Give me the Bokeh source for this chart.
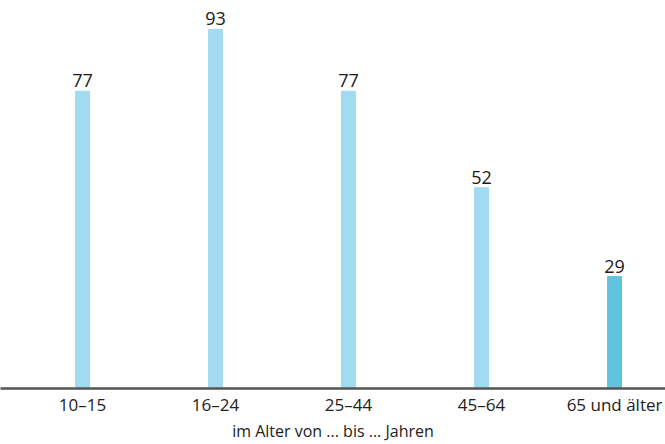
from bokeh.plotting import figure
from bokeh.models import ColumnDataSource, Range1d, FixedTicker, LabelSet
from bokeh.core.properties import value
from bokeh.embed import file_html
from bokeh.resources import INLINE

categories = ["10–15", "16–24", "25–44", "45–64", "65 und älter"]
values = [77, 93, 77, 52, 29]
colors = ["#a2daf2", "#a2daf2", "#a2daf2", "#a2daf2", "#5fc4dc"]
x_label = "im Alter von ... bis ... Jahren"

xs = list(range(len(categories)))
src = ColumnDataSource(dict(x=xs, top=values, color=colors, lab=[str(v) for v in values]))

p = figure(width=665, height=444, output_backend="svg", toolbar_location=None,
           x_range=Range1d(-0.617, 4.383), y_range=Range1d(0, 100.5),
           min_border_left=0, min_border_right=0, min_border_top=0, min_border_bottom=56)
p.vbar(x="x", top="top", width=0.105, color="color", source=src)

p.add_layout(LabelSet(x="x", y="top", text="lab", source=src, text_align="center",
                      text_baseline="bottom", y_offset=4, text_font_size=value("18px"),
                      text_font=value("Open Sans"), text_color=value("#1a1a1a")))

p.yaxis.visible = False
p.grid.visible = False
p.outline_line_color = None
ax = p.xaxis[0]
ax.ticker = FixedTicker(ticks=xs)
ax.major_label_overrides = {i: c for i, c in enumerate(categories)}
ax.major_tick_line_color = None
ax.minor_tick_line_color = None
ax.major_tick_out = 0
ax.major_tick_in = 0
ax.axis_line_color = "#555555"
ax.axis_line_width = 2.5
ax.major_label_text_font = "Open Sans"
ax.major_label_text_font_size = "17px"
ax.major_label_text_color = "#222222"
ax.major_label_standoff = 4
ax.axis_label = x_label
ax.axis_label_text_font = "Open Sans"
ax.axis_label_text_font_size = "16px"
ax.axis_label_text_font_style = "normal"
ax.axis_label_text_color = "#222222"
ax.axis_label_standoff = 1

open("out.html", "w").write(file_html(p, INLINE))
